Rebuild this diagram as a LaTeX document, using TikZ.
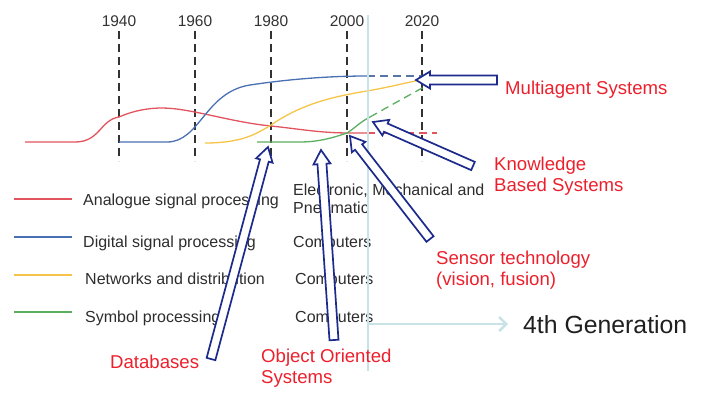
\documentclass[tikz,border=0pt]{standalone}
\usepackage{fontspec}
\setmainfont{Liberation Sans}
\usetikzlibrary{calc,arrows.meta}
\definecolor{anared}{RGB}{226,84,94}
\definecolor{digblue}{RGB}{72,112,178}
\definecolor{netyellow}{RGB}{246,196,72}
\definecolor{symgreen}{RGB}{92,174,96}
\definecolor{navy}{RGB}{28,42,140}
\definecolor{labelred}{RGB}{236,32,44}
\definecolor{genblue}{RGB}{200,226,232}
\definecolor{textgray}{RGB}{45,45,45}
\definecolor{yeargray}{RGB}{50,50,50}

% hollow block arrow from tip #1 back to tail #2
\newcommand\hollowarrow[2]{%
  \coordinate (ha-h) at ($(#1)!14pt!(#2)$);
  \draw[blockarrow] (#1) -- ($(ha-h)!8.5pt!90:(#2)$) -- ($(ha-h)!4.5pt!90:(#2)$)
    -- ($(#2)!4.5pt!-90:(ha-h)$) -- ($(#2)!4.5pt!90:(ha-h)$)
    -- ($(ha-h)!4.5pt!-90:(#2)$) -- ($(ha-h)!8.5pt!-90:(#2)$) -- cycle;}

\begin{document}
\begin{tikzpicture}[x=1pt,y=-1pt,
  yearlabel/.style={font=\fontsize{15.5}{17}\selectfont, text=yeargray, inner sep=0pt, anchor=base},
  yearline/.style={draw=yeargray, line width=1.4pt, dash pattern=on 8pt off 5pt},
  trend/.style={line width=1.3pt},
  future/.style={line width=1.3pt, dash pattern=on 8pt off 5pt},
  legendtext/.style={font=\fontsize{16}{18}\selectfont, text=textgray, inner sep=0pt, anchor=base west},
  redlabel/.style={font=\fontsize{18.6}{21.5}\selectfont, text=labelred, inner sep=0pt, anchor=base west, align=left},
  blockarrow/.style={draw=navy, fill=white, line width=1.7pt, line join=miter},
  genline/.style={draw=genblue, line width=2.6pt}]
\useasboundingbox (0,0) rectangle (705,392);

% time axis
\foreach \yr/\x in {1940/119,1960/195,1980/271,2000/347,2020/422}{
  \node[yearlabel] (y\yr) at (\x,26) {\yr};
  \draw[yearline] (\x,31) -- (\x,161);
}

% red: analogue signal processing
\draw[trend, anared] (25,142) -- (75,142) .. controls (100,142) and (100,120) .. (119,117)
  .. controls (135,110) and (150,108) .. (162,108)
  .. controls (190,108) and (230,122) .. (271,126)
  .. controls (300,129) and (320,133) .. (350,133) -- (367,133);
\draw[future, anared] (367,133) -- (437,133);

% blue: digital signal processing
\draw[trend, digblue] (119,142) -- (167,142) .. controls (200,142) and (205,92) .. (250,85)
  .. controls (290,79) and (330,76) .. (367,76);
\draw[future, digblue!70!gray] (367,76) -- (422,76);

% yellow: networks and distribution
\draw[trend, netyellow] (205,143) .. controls (240,143) and (255,135) .. (271,125)
  .. controls (300,105) and (330,97) .. (367,91)
  .. controls (390,87) and (405,83) .. (420,80);

% green: symbol processing
\draw[trend, symgreen] (257,142) -- (300,142) .. controls (320,142) and (335,137) .. (347,133)
  .. controls (355,128) and (360,122) .. (370,117);
\draw[future, symgreen] (370,117) .. controls (395,103) .. (433,82);

% legend
\foreach \c/\y in {anared/199,digblue/237,netyellow/275,symgreen/312}
  \draw[line width=1.2pt, \c] (14,\y) -- (72,\y);
\node[legendtext] (lg1) at (83,205) {Analogue signal processing};
\node[legendtext] (lg2) at (83,247) {Digital signal processing};
\node[legendtext] (lg3) at (85,284) {Networks and distribution};
\node[legendtext] (lg4) at (85,322) {Symbol processing};
\node[legendtext] (ty1) at (293,195) {Electronic, Mechanical and};
\node[legendtext] (ty1b) at (293,213) {Pneumatic};
\node[legendtext] (ty2) at (293,247) {Computers};
\node[legendtext] (ty3) at (295,284) {Computers};
\node[legendtext] (ty4) at (295,322) {Computers};

% fourth generation marker
\coordinate (gtop) at (368,15);
\coordinate (gbot) at (368,371);
\coordinate (gmid) at (368,324);
\node[font=\fontsize{24.8}{28}\selectfont, text=black!88, inner sep=0pt, anchor=base west] (gen) at (523,333) {4th Generation};
\draw[genline] (gtop) -- (gbot);
\draw[genline, -{Straight Barb[length=7pt,width=14pt]}] (gmid) -- (508,324);

% technology labels (base = baseline of the last line)
\node[redlabel] (mas) at (505,94) {Multiagent Systems};
\node[redlabel] (kbs) at (494,191) {Knowledge\\[-1pt]Based Systems};
\node[redlabel] (sen) at (436,285) {Sensor technology\\[-1pt](vision, fusion)};
\node[redlabel] (db) at (110,368) {Databases};
\node[redlabel] (oo) at (261,383) {Object Oriented\\[-1pt]Systems};

% pointers from labels to the curves
\coordinate (masTip) at (416,80);   \coordinate (masTail) at (497,80);
\coordinate (kbsTip) at (373,122);  \coordinate (kbsTail) at (473,166);
\coordinate (senTip) at (350,136);  \coordinate (senTail) at (430,239);
\coordinate (ooTip) at (321,150);   \coordinate (ooTail) at (334,340);
\coordinate (dbTip) at (268,147);   \coordinate (dbTail) at (211,359);
\hollowarrow{masTip}{masTail}
\hollowarrow{kbsTip}{kbsTail}
\hollowarrow{senTip}{senTail}
\hollowarrow{ooTip}{ooTail}
\hollowarrow{dbTip}{dbTail}
\end{tikzpicture}
\end{document}
